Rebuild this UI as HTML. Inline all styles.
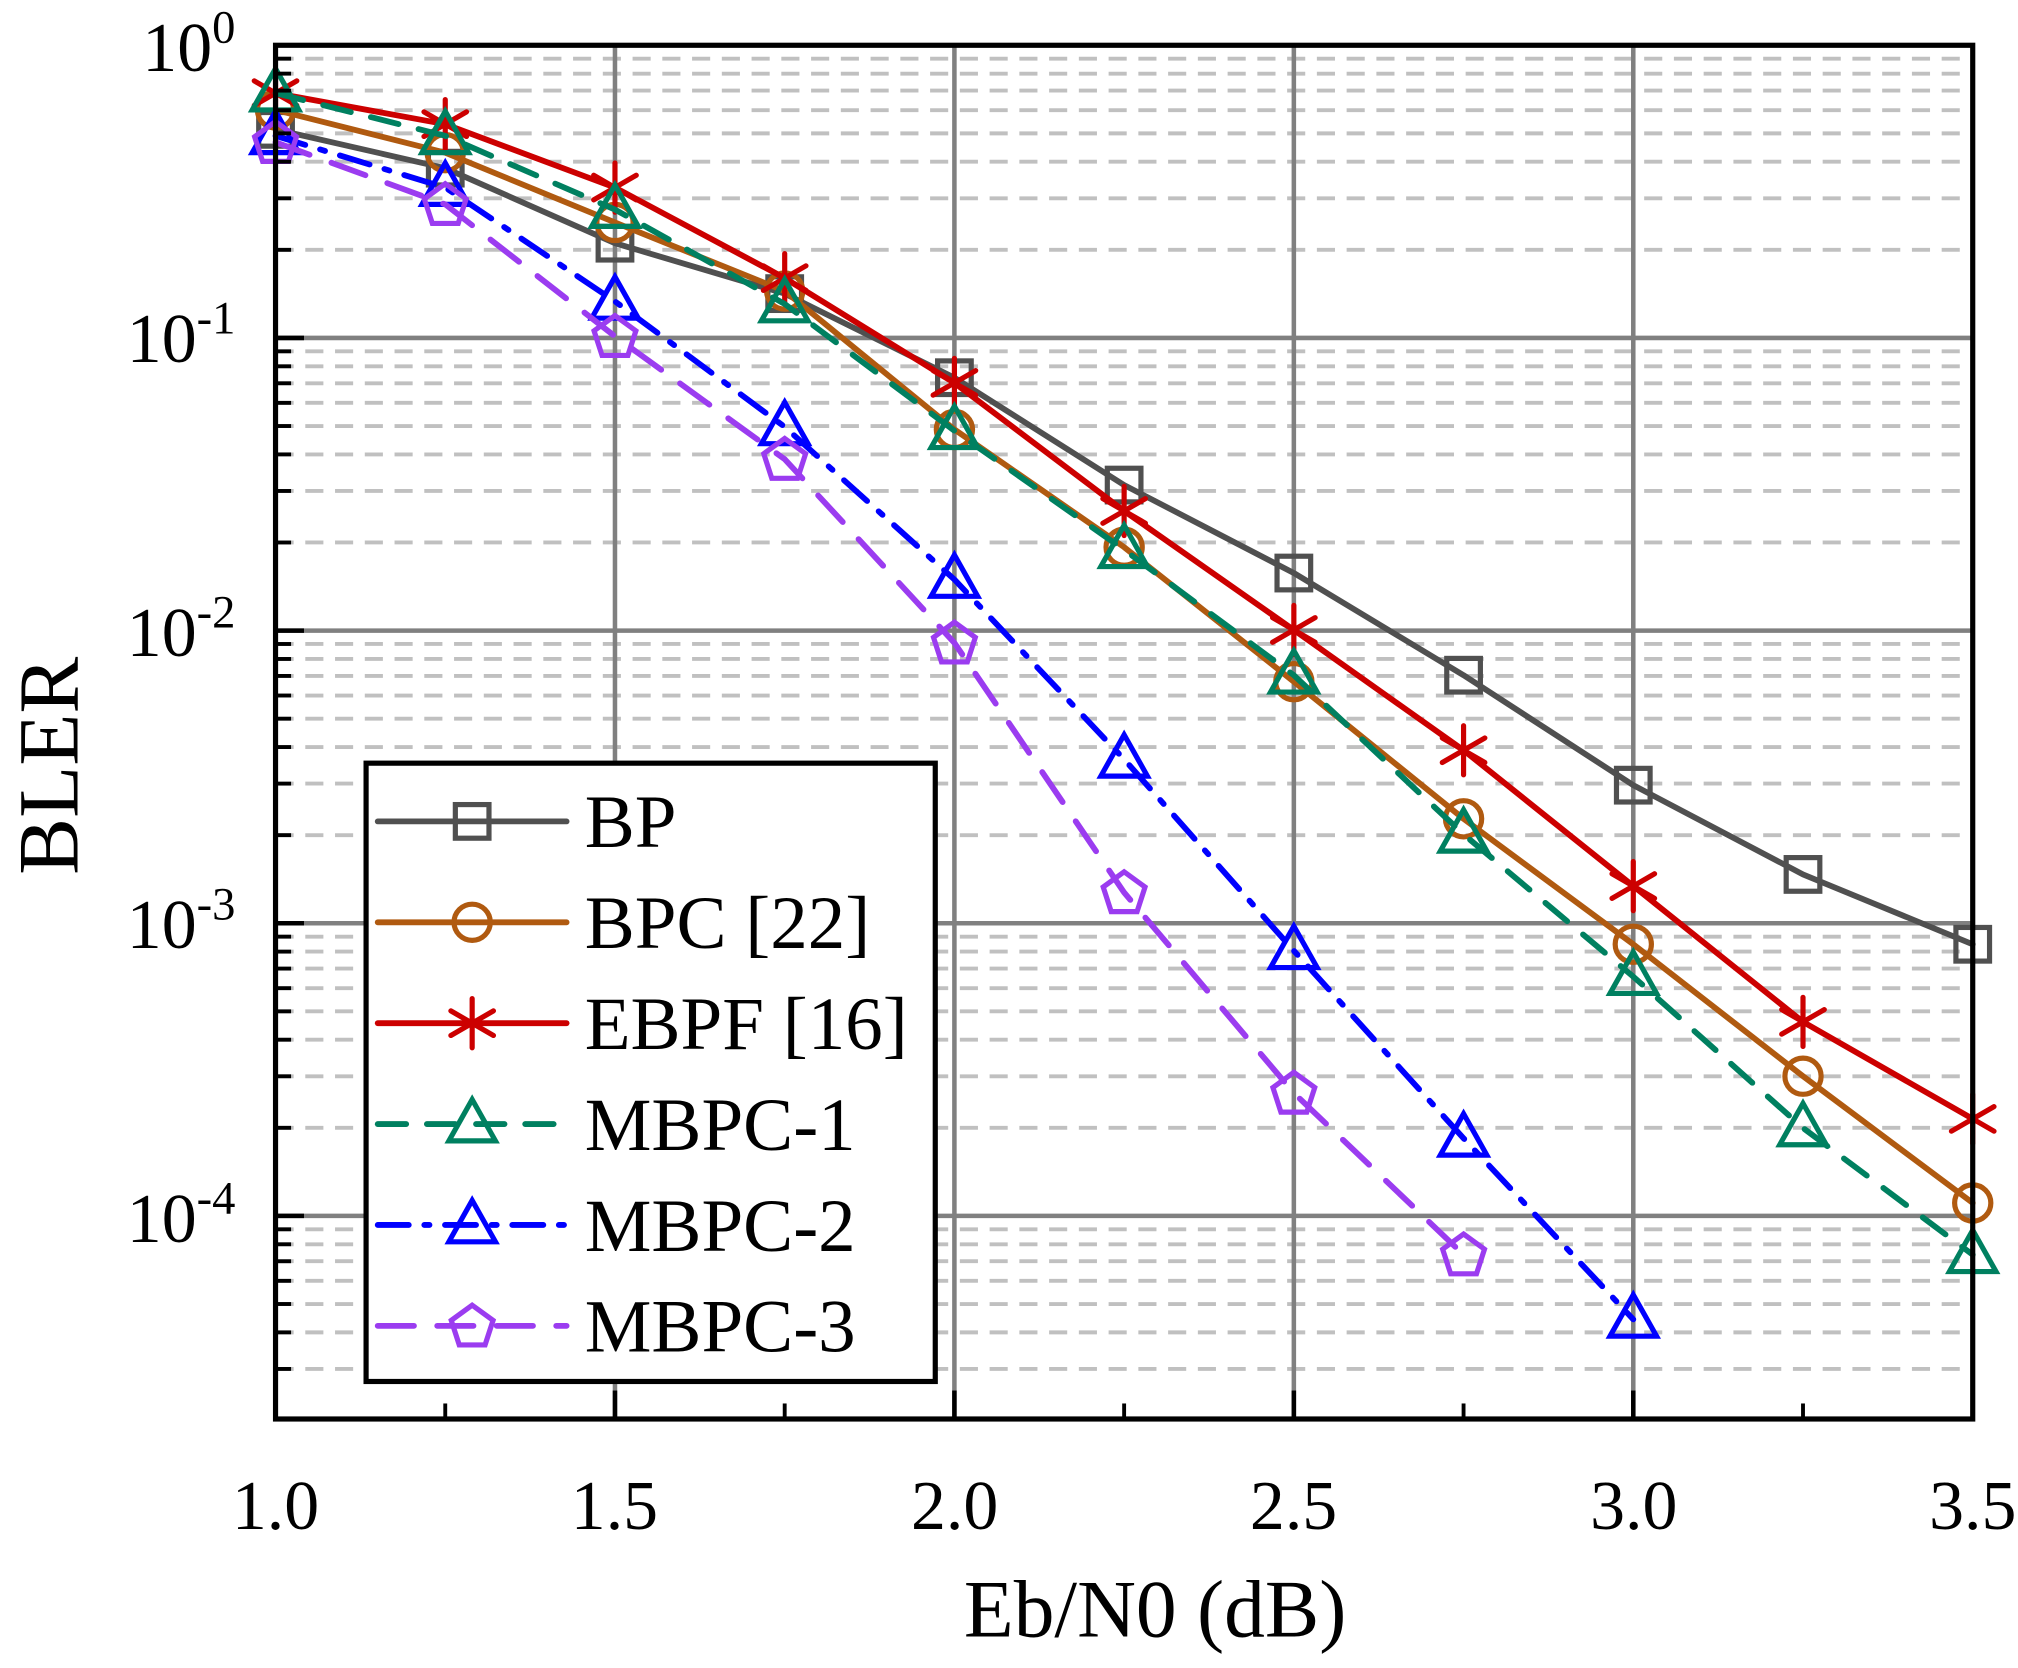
<!DOCTYPE html>
<html><head><meta charset="utf-8"><style>
html,body{margin:0;padding:0;background:#fff;}
svg{display:block;}
text{font-family:"Liberation Serif",serif;fill:#000;}
</style></head><body>
<svg id="s" xmlns="http://www.w3.org/2000/svg" width="2018" height="1668" viewBox="0 0 1560 1289.5" preserveAspectRatio="none">
<rect x="0" y="0" width="1560" height="1290" fill="#fff"/>
<g id="grid"></g>
<g id="series"></g>
<rect x="213" y="35" width="1312" height="1062" fill="none" stroke="#000" stroke-width="4"/>
<g id="ticks"></g>
<g font-size="54">
<text x="213" y="1182" text-anchor="middle">1.0</text>
<text x="475" y="1182" text-anchor="middle">1.5</text>
<text x="738" y="1182" text-anchor="middle">2.0</text>
<text x="1000" y="1182" text-anchor="middle">2.5</text>
<text x="1263" y="1182" text-anchor="middle">3.0</text>
<text x="1525" y="1182" text-anchor="middle">3.5</text>
</g>
<g font-size="54" text-anchor="end">
<text x="182" y="55">10<tspan font-size="36" dy="-22">0</tspan></text>
<text x="182" y="280">10<tspan font-size="36" dy="-22">-1</tspan></text>
<text x="182" y="507">10<tspan font-size="36" dy="-22">-2</tspan></text>
<text x="182" y="733">10<tspan font-size="36" dy="-22">-3</tspan></text>
<text x="182" y="960">10<tspan font-size="36" dy="-22">-4</tspan></text>
</g>
<text x="893" y="1265" font-size="63" text-anchor="middle">Eb/N0 (dB)</text>
<text transform="translate(60,592) rotate(-90)" font-size="66" text-anchor="middle">BLER</text>
<rect x="283" y="590" width="440" height="478" fill="#fff" stroke="#000" stroke-width="4"/>
<g id="legend"></g>
<g font-size="58">
<text x="452" y="655">BP</text>
<text x="452" y="733">BPC [22]</text>
<text x="452" y="811">EBPF [16]</text>
<text x="452" y="889">MBPC-1</text>
<text x="452" y="967">MBPC-2</text>
<text x="452" y="1045">MBPC-3</text>
</g>
</svg>
<script>
(function(){
var NS="http://www.w3.org/2000/svg";
function el(p,t,a){var e=document.createElementNS(NS,t);for(var k in a)e.setAttribute(k,a[k]);p.appendChild(e);return e;}
var g=document.getElementById('grid'),tk=document.getElementById('ticks');
var T=35,B=1097,L=213,R=1525,dec=226.25;
function yv(lv){return T+(-lv)*dec;}
for(var d=0;d<5;d++){for(var k=2;k<=9;k++){var y=yv(-(d+1)+Math.log10(k));if(y>T+1&&y<B-1){el(g,'line',{x1:L,x2:R,y1:y,y2:y,stroke:'#c0c0c0','stroke-width':3,'stroke-dasharray':'14 9'});el(tk,'line',{x1:L,x2:L+12,y1:y,y2:y,stroke:'#000','stroke-width':3});}}}
for(var d=1;d<=4;d++){var y=yv(-d);el(g,'line',{x1:L,x2:R,y1:y,y2:y,stroke:'#808080','stroke-width':3.5});el(tk,'line',{x1:L,x2:L+22,y1:y,y2:y,stroke:'#000','stroke-width':3.5});}
for(var i=1;i<5;i++){var x=L+i*262.4;el(g,'line',{x1:x,x2:x,y1:T,y2:B,stroke:'#808080','stroke-width':3.5});el(tk,'line',{x1:x,x2:x,y1:B-22,y2:B,stroke:'#000','stroke-width':3.5});}
for(var i=0;i<5;i++){var x=L+131.2+i*262.4;el(tk,'line',{x1:x,x2:x,y1:B-12,y2:B,stroke:'#000','stroke-width':3});}
function X(i){return L+i*131.2;}
var S=[
{c:'#505050',m:'sq',d:'',y:[100,130,188,227,292,375,443,522,607,676,730]},
{c:'#b05a10',m:'ci',d:'',y:[85,118,172,225,332,423,527,633,730,832,930]},
{c:'#cc0000',m:'as',d:'',y:[72,96,145,215,296,395,487,580,685,790,865]},
{c:'#008060',m:'tr',d:'22 16',y:[72,105,162,235,333,425,522,645,755,872,970]},
{c:'#0000ff',m:'tr',d:'24 12 4 12',y:[105,145,233,330,448,587,735,880,1020]},
{c:'#9b3cf0',m:'pe',d:'28 18',y:[110,158,260,355,497,690,845,970]}];
function mk(p,m,x,y,c){var a={fill:'none',stroke:c,'stroke-width':4,'stroke-linejoin':'miter'};
if(m=='sq'){a.x=x-13;a.y=y-13;a.width=26;a.height=26;el(p,'rect',a);}
else if(m=='ci'){a.cx=x;a.cy=y;a.r=14;el(p,'circle',a);}
else if(m=='tr'){a.points=(x)+','+(y-19)+' '+(x-18)+','+(y+13)+' '+(x+18)+','+(y+13);el(p,'polygon',a);}
else if(m=='pe'){var pts=[];for(var k=0;k<5;k++){var t=-Math.PI/2+k*2*Math.PI/5;pts.push((x+17*Math.cos(t))+','+(y+17*Math.sin(t)+1));}a.points=pts.join(' ');el(p,'polygon',a);}
else if(m=='as'){var r=19;var d='';for(var k=0;k<3;k++){var t=Math.PI/2+k*Math.PI/3;d+='M'+(x-r*Math.cos(t))+','+(y-r*Math.sin(t))+'L'+(x+r*Math.cos(t))+','+(y+r*Math.sin(t));}el(p,'path',{d:d,stroke:c,'stroke-width':4,'stroke-linecap':'round'});}}
var sg=document.getElementById('series'),lg=document.getElementById('legend');
S.forEach(function(s,j){var pts=s.y.map(function(v,i){return X(i)+','+v;}).join(' ');
var a={points:pts,fill:'none',stroke:s.c,'stroke-width':4.5,'stroke-linecap':'round','stroke-linejoin':'round'};if(s.d)a['stroke-dasharray']=s.d;el(sg,'polyline',a);
s.y.forEach(function(v,i){mk(sg,s.m,X(i),v,s.c);});
var ly=635+j*78;var b={x1:292,x2:438,y1:ly,y2:ly,stroke:s.c,'stroke-width':4.5,'stroke-linecap':'round'};if(s.d)b['stroke-dasharray']=s.d;el(lg,'line',b);mk(lg,s.m,365,ly,s.c);});
})();
</script>
</body></html>
